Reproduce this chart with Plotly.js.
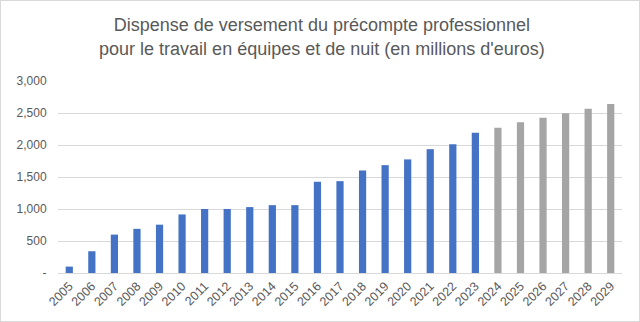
<!DOCTYPE html>
<html>
<head>
<meta charset="utf-8">
<script src="https://cdn.plot.ly/plotly-3.0.1.min.js"></script>
<style>
html,body{margin:0;padding:0;background:#fff;}
#chart{width:640px;height:322px;box-sizing:border-box;border:1px solid #d9d9d9;}
</style>
</head>
<body>
<div id="chart"></div>
<script>
const years = ["2005","2006","2007","2008","2009","2010","2011","2012","2013","2014","2015","2016","2017","2018","2019","2020","2021","2022","2023","2024","2025","2026","2027","2028","2029"];
const values = [100,340,600,690,755,915,1000,1000,1030,1060,1060,1425,1435,1600,1685,1775,1935,2010,2190,2270,2355,2425,2495,2565,2640];
const firstForecastYear = "2024";
const yTickVals = [0,500,1000,1500,2000,2500,3000];
const yTickText = ["-","500","1,000","1,500","2,000","2,500","3,000"];
const titleText = "Dispense de versement du précompte professionnel<br>pour le travail en équipes et de nuit (en millions d'euros)";

const fIdx = years.indexOf(firstForecastYear);
const colors = years.map((y,i)=> i < fIdx ? "#4472C4" : "#A5A5A5");

const trace = {
  type:"bar",
  x: years,
  y: values,
  marker:{color:colors, line:{width:0}},
  hoverinfo:"x+y"
};

const layout = {
  width:638, height:320,
  margin:{l:57, r:17, t:80, b:48},
  paper_bgcolor:"#fff", plot_bgcolor:"#fff",
  bargap:0.68,
  showlegend:false,
  title:{text:titleText, x:0.503, xanchor:"center", y:0.905, yanchor:"middle",
    font:{family:"Liberation Sans, Arial, sans-serif", size:18, color:"#595959"}},
  font:{family:"Liberation Sans, Arial, sans-serif", color:"#595959"},
  xaxis:{type:"category", tickangle:-45, tickfont:{size:12.5, color:"#595959"},
    showgrid:false, showline:true, linecolor:"#d9d9d9", linewidth:1, ticks:"", automargin:false},
  yaxis:{range:[0,3000], tickvals:yTickVals, ticktext:yTickText,
    tickfont:{size:12, color:"#595959"}, showgrid:true, gridcolor:"#d9d9d9", gridwidth:1,
    zeroline:false, showline:false, ticks:"outside", ticklen:8, tickcolor:"rgba(0,0,0,0)", automargin:false}
};

Plotly.newPlot("chart",[trace],layout,{displayModeBar:false, staticPlot:true});
</script>
</body>
</html>
